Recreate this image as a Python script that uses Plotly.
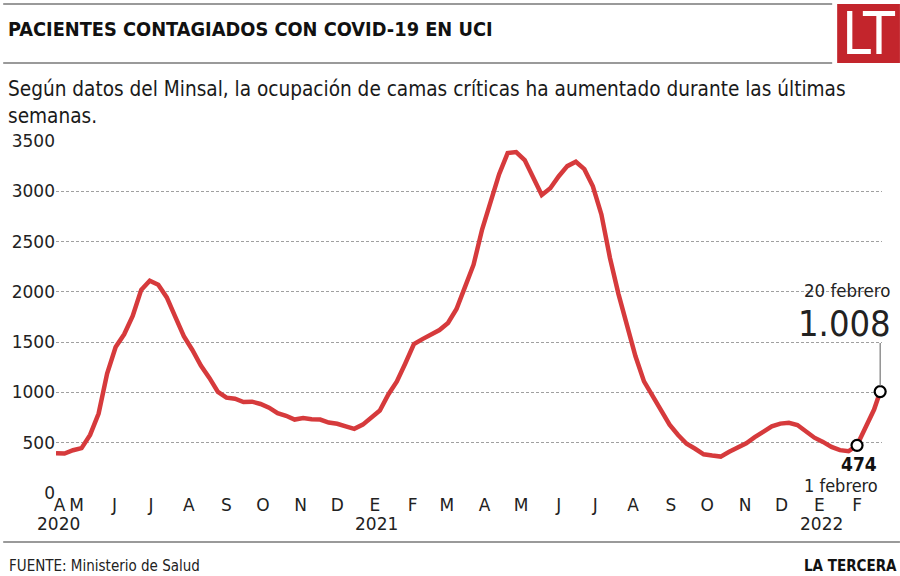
import plotly.graph_objects as go
import pandas as pd

# ---------------- data ----------------
start_date = "2020-04-14"
weekly_values = [
    395, 392, 425, 446, 578, 790, 1187, 1452, 1578, 1760,
    2020, 2110, 2070, 1945, 1752, 1560, 1422, 1268, 1145, 1006,
    948, 938, 905, 908, 885, 848, 793, 768, 730, 745,
    733, 730, 700, 688, 662, 638, 680, 750, 820, 980,
    1110, 1290, 1480, 1530, 1575, 1620, 1690, 1830, 2050, 2270,
    2620, 2910, 3170, 3380, 3390, 3310, 3135, 2963, 3030, 3150,
    3250, 3294, 3220, 3050, 2770, 2340, 1980, 1650, 1360, 1110,
    965, 815, 680, 577, 490, 440, 385, 372, 362, 410,
    452, 495, 555, 610, 662, 690, 698, 676, 612, 550,
    508, 458, 426, 415, 474,
]
final_dates = ["2022-02-08", "2022-02-15", "2022-02-20"]
final_values = [640, 830, 1008]

month_tick_dates = [
    "2020-04-17", "2020-05-01", "2020-06-01", "2020-07-01", "2020-08-01",
    "2020-09-01", "2020-10-01", "2020-11-01", "2020-12-01", "2021-01-01",
    "2021-02-01", "2021-03-01", "2021-04-01", "2021-05-01", "2021-06-01",
    "2021-07-01", "2021-08-01", "2021-09-01", "2021-10-01", "2021-11-01",
    "2021-12-01", "2022-01-01", "2022-02-01",
]
month_tick_labels = ["A", "M", "J", "J", "A", "S", "O", "N", "D", "E", "F", "M",
                     "A", "M", "J", "J", "A", "S", "O", "N", "D", "E", "F"]
year_dates = ["2020-04-16", "2021-01-02", "2022-01-03"]
year_labels = ["2020", "2021", "2022"]
y_ticks = [0, 500, 1000, 1500, 2000, 2500, 3000, 3500]

highlight_dates = ["2022-02-01", "2022-02-20"]
highlight_values = [474, 1008]

title_text = "PACIENTES CONTAGIADOS CON COVID-19 EN UCI"
subtitle_text = ("Según datos del Minsal, la ocupación de camas críticas ha aumentado durante las últimas"
                 "<br>semanas.")
source_text = "FUENTE: Ministerio de Salud"
brand_text = "LA TERCERA"

# ---------------- build ----------------
dates = list(pd.date_range(start_date, periods=len(weekly_values), freq="7D")) + \
    list(pd.to_datetime(final_dates))
values = weekly_values + final_values

W, H = 900, 576
L, R, T, B = 53, 18, 141, 83
PW, PH = W - L - R, H - T - B


def xp(px):
    return (px - L) / PW


def yp(py):
    return (H - B - py) / PH


NARROW = "DejaVu Sans Condensed, sans-serif"
TICKF = "DejaVu Sans, sans-serif"
RED = "#d63a3c"
GRAY = "#9a9a9a"

fig = go.Figure()
fig.add_trace(go.Scatter(
    x=dates, y=values, mode="lines",
    line=dict(color=RED, width=4.5),
    hoverinfo="skip", showlegend=False,
))
fig.add_trace(go.Scatter(
    x=pd.to_datetime(highlight_dates), y=highlight_values, mode="markers",
    marker=dict(size=11, color="white", line=dict(color="black", width=2.2)),
    hoverinfo="skip", showlegend=False, cliponaxis=False,
))

shapes = [
    dict(type="line", xref="paper", yref="paper", x0=xp(0), x1=xp(832), y0=yp(4), y1=yp(4),
         line=dict(color=GRAY, width=2)),
    dict(type="line", xref="paper", yref="paper", x0=xp(0), x1=xp(832), y0=yp(63), y1=yp(63),
         line=dict(color=GRAY, width=2)),
    dict(type="rect", xref="paper", yref="paper", x0=xp(837), x1=xp(900), y0=yp(63), y1=yp(4),
         fillcolor="#c3252c", line=dict(width=0)),
    dict(type="line", xref="paper", yref="paper", x0=xp(0), x1=xp(900), y0=yp(542), y1=yp(542),
         line=dict(color=GRAY, width=2)),
    dict(type="line", xref="x", yref="paper", x0=highlight_dates[1], x1=highlight_dates[1],
         y0=yp(386), y1=yp(343), line=dict(color="#777", width=1.2)),
]

annotations = [
    dict(text=title_text, xref="paper", yref="paper", x=xp(3), y=yp(29), xanchor="left",
         yanchor="middle", showarrow=False,
         font=dict(family=NARROW, size=19.8, color="#111", weight="bold")),
    dict(text="LT", xref="paper", yref="paper", x=xp(868.5), y=yp(34), xanchor="center",
         yanchor="middle", showarrow=False,
         font=dict(family=NARROW, size=58, color="white")),
    dict(text=subtitle_text, xref="paper", yref="paper", x=xp(3), y=yp(102.5), xanchor="left",
         yanchor="middle", showarrow=False, align="left",
         font=dict(family=NARROW, size=20.6, color="#1a1a1a")),
    dict(text=source_text, xref="paper", yref="paper", x=xp(4), y=yp(566), xanchor="left",
         yanchor="middle", showarrow=False,
         font=dict(family=NARROW, size=15, color="#222")),
    dict(text=brand_text, xref="paper", yref="paper", x=xp(899), y=yp(566), xanchor="right",
         yanchor="middle", showarrow=False,
         font=dict(family=NARROW, size=15, color="#111", weight="bold")),
    dict(text="20 febrero", xref="paper", yref="paper", x=xp(892), y=yp(290), xanchor="right",
         yanchor="middle", showarrow=False,
         font=dict(family=NARROW, size=18.5, color="#222")),
    dict(text=f"{highlight_values[1]:,}".replace(",", "."), xref="paper", yref="paper",
         x=xp(893), y=yp(323), xanchor="right", yanchor="middle", showarrow=False,
         font=dict(family=NARROW, size=36, color="#222", weight=300)),
    dict(text=f"<b>{highlight_values[0]}</b>", xref="paper", yref="paper", x=xp(859), y=yp(464),
         xanchor="center", yanchor="middle", showarrow=False, borderpad=0,
         font=dict(family=NARROW, size=19, color="#111")),
    dict(text="1 febrero", xref="paper", yref="paper", x=xp(879), y=yp(485), xanchor="right",
         yanchor="middle", showarrow=False, borderpad=0,
         font=dict(family=NARROW, size=18, color="#222")),
]
for d, t in zip(year_dates, year_labels):
    annotations.append(dict(text=t, xref="x", yref="paper", x=d, y=yp(524), xanchor="center",
                            yanchor="middle", showarrow=False,
                            font=dict(family=TICKF, size=17, color="#222")))

fig.update_layout(
    width=W, height=H,
    margin=dict(l=L, r=R, t=T, b=B, pad=0),
    paper_bgcolor="white", plot_bgcolor="white",
    shapes=shapes, annotations=annotations,
    xaxis=dict(
        type="date", range=["2020-04-14", "2022-02-21 12:00"],
        tickvals=month_tick_dates, ticktext=month_tick_labels,
        showgrid=False, zeroline=False, showline=False, ticks="",
        tickfont=dict(family=TICKF, size=17, color="#222"),
        fixedrange=True,
    ),
    yaxis=dict(
        range=[0, 3500], tickvals=y_ticks, ticks="",
        showgrid=True, gridcolor="#a0a0a0", gridwidth=1, griddash="3px,2px",
        zeroline=False, showline=False,
        tickfont=dict(family=TICKF, size=17, color="#222"),
        fixedrange=True,
    ),
)

fig.write_html("out.html")
